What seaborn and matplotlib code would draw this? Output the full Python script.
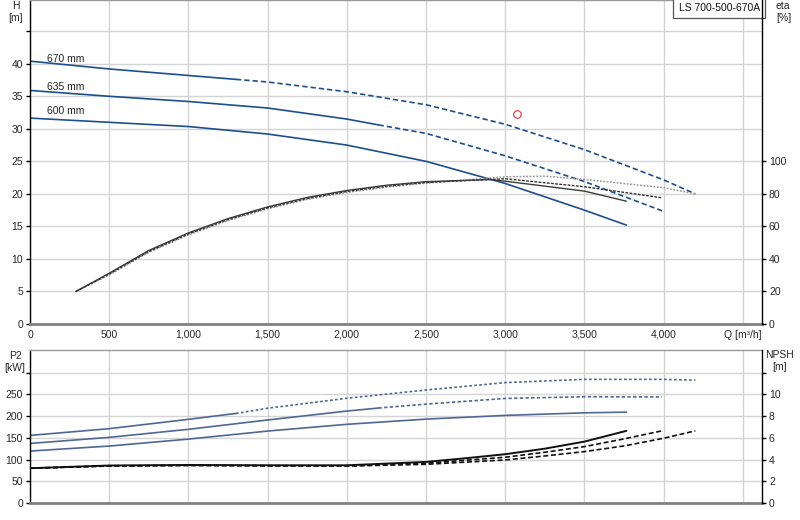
import matplotlib
matplotlib.use("Agg")
import matplotlib.pyplot as plt
import numpy as np
import pandas as pd
import seaborn as sns

# ---------------- data ----------------
diameters = ["670 mm", "635 mm", "600 mm"]

# head curves H [m]
q_h_670 = [0, 500, 1000, 1300, 1500, 2000, 2500, 3000, 3500, 4000, 4200]
h_670 = [40.4, 39.2, 38.2, 37.6, 37.2, 35.7, 33.7, 30.7, 26.8, 22.15, 20.0]
q_h_635 = [0, 500, 1000, 1500, 2000, 2200, 2500, 3000, 3500, 3990]
h_635 = [35.9, 35.0, 34.2, 33.2, 31.5, 30.6, 29.3, 25.85, 21.9, 17.4]
q_h_600 = [0, 500, 1000, 1500, 2000, 2500, 3000, 3500, 3765]
h_600 = [31.65, 31.0, 30.35, 29.2, 27.5, 25.0, 21.6, 17.5, 15.2]
solid_until = [1300, 2200, 3765]   # end of solid part for 670 / 635 / 600

# efficiency curves eta [%]
q_e_670 = [290, 500, 750, 1000, 1250, 1500, 1750, 2000, 2250, 2500, 3000, 3250, 3500, 4000, 4200]
eta_670 = [20, 30.2, 44.0, 54.8, 63.6, 70.8, 76.6, 80.9, 84.1, 86.6, 90.5, 90.9, 88.9, 83.8, 80.0]
q_e_635 = [290, 500, 750, 1000, 1250, 1500, 1750, 2000, 2250, 2500, 3000, 3500, 3990]
eta_635 = [20, 30.7, 44.6, 55.4, 64.2, 71.4, 77.2, 81.5, 84.7, 87.0, 89.3, 84.4, 77.6]
q_e_600 = [290, 500, 750, 1000, 1250, 1500, 1750, 2000, 2250, 2500, 2900, 3000, 3500, 3765]
eta_600 = [20, 31.2, 45.2, 56.0, 64.8, 72.0, 77.8, 82.1, 85.3, 87.5, 88.8, 87.8, 81.7, 75.5]

# power curves P2 [kW]
q_p_670 = [0, 500, 1000, 1300, 1500, 2000, 2500, 3000, 3500, 4000, 4200]
p2_670 = [155.5, 171, 192.5, 206, 218, 241, 260, 277, 284.5, 284.5, 282.5]
q_p_635 = [0, 500, 1000, 1500, 2000, 2200, 2500, 3000, 3500, 3990]
p2_635 = [137, 151, 169.5, 191, 211.5, 218.5, 227.5, 240.5, 244.5, 244]
q_p_600 = [0, 500, 1000, 1500, 2000, 2500, 3000, 3500, 3765]
p2_600 = [119.5, 131, 147, 165.5, 181, 193, 201.5, 207.5, 209]

# NPSH curves [m]
q_n_670 = [0, 500, 1000, 1500, 2000, 2500, 3000, 3250, 3500, 3750, 4000, 4200]
npsh_670 = [3.2, 3.4, 3.45, 3.42, 3.4, 3.56, 3.96, 4.33, 4.73, 5.25, 5.96, 6.64]
q_n_635 = [0, 500, 1000, 1500, 2000, 2500, 3000, 3250, 3500, 3750, 3990]
npsh_635 = [3.2, 3.42, 3.47, 3.44, 3.42, 3.66, 4.21, 4.67, 5.19, 5.9, 6.64]
q_n_600 = [0, 500, 1000, 1500, 2000, 2500, 2750, 3000, 3250, 3500, 3765]
npsh_600 = [3.2, 3.45, 3.5, 3.47, 3.47, 3.78, 4.12, 4.49, 5.0, 5.65, 6.64]

# duty point
duty_q = [3077]
duty_h = [32.2]

x_ticks = [0, 500, 1000, 1500, 2000, 2500, 3000, 3500, 4000, 4500]
x_labels = ["0", "500", "1,000", "1,500", "2,000", "2,500", "3,000", "3,500", "4,000", "Q [m³/h]"]
h_ticks = [0, 5, 10, 15, 20, 25, 30, 35, 40, 45]
eta_ticks = [0, 20, 40, 60, 80, 100]
p2_ticks = [0, 50, 100, 150, 200, 250, 300]
npsh_ticks = [0, 2, 4, 6, 8, 10, 12]

# ---------------- style ----------------
sns.set_theme(style="white")
plt.rcParams["font.family"] = ["Liberation Sans", "DejaVu Sans"]
FS = 7.5
plt.rcParams["font.size"] = FS

BLUE = "#1d4f8f"
PBLUE = "#4f6794"
GRID = "#d4d4d4"

fig = plt.figure(figsize=(8, 5.2), dpi=100)
ax = fig.add_axes([30 / 800, 1 - 324 / 520, 732 / 800, 324 / 520])
axb = fig.add_axes([30 / 800, 1 - 503 / 520, 732 / 800, 153 / 520])

XMAX = 4621
HTOP = 49.8
PTOP = 352


def split(q, v, lim):
    a = pd.DataFrame({"Q": [x for x in q if x <= lim], "V": [y for x, y in zip(q, v) if x <= lim]})
    b = pd.DataFrame({"Q": [x for x in q if x >= lim], "V": [y for x, y in zip(q, v) if x >= lim]})
    return a, b


def line(a, df, **kw):
    if len(df) > 1:
        sns.lineplot(data=df, x="Q", y="V", ax=a, estimator=None, sort=False, legend=False, **kw)


def style_axes(a, ymax, yt, ylabels_max):
    a.set_xlim(0, XMAX)
    a.set_ylim(0, ymax)
    a.set_xticks(x_ticks)
    a.set_yticks(yt)
    a.grid(True, color=GRID, lw=1.0)
    a.set_axisbelow(True)
    a.spines["top"].set_color("#999999")
    a.spines["top"].set_linewidth(1.0)
    a.spines["bottom"].set_color("#808080")
    a.spines["bottom"].set_linewidth(2.0)
    a.spines["left"].set_color("black")
    a.spines["left"].set_linewidth(1.0)
    a.spines["right"].set_visible(False)
    a.tick_params(axis="y", direction="out", length=3, width=1, color="black", pad=2, labelsize=FS)
    a.tick_params(axis="x", length=0, pad=4, labelsize=FS)
    a.set_yticklabels([str(t) if t <= ylabels_max else "" for t in yt])


def style_twin(a, ymax, yt, ylabels_max):
    a.set_ylim(0, ymax)
    a.set_yticks(yt)
    a.set_yticklabels([str(t) if t <= ylabels_max else "" for t in yt])
    a.grid(False)
    for s in ["top", "left", "bottom"]:
        a.spines[s].set_visible(False)
    a.spines["right"].set_color("black")
    a.spines["right"].set_linewidth(1.0)
    a.tick_params(axis="y", direction="out", length=3, width=1, color="black", pad=2, labelsize=FS)


# ---------------- top: H / eta ----------------
style_axes(ax, HTOP, h_ticks, 40)
ax.set_xticklabels(x_labels)

for q, h, lim in zip([q_h_670, q_h_635, q_h_600], [h_670, h_635, h_600], solid_until):
    s, d = split(q, h, lim)
    line(ax, s, color=BLUE, lw=1.2)
    line(ax, d, color=BLUE, lw=1.2, linestyle=(0, (3.2, 1.8)))

label_h = [40.8, 36.5, 32.7]
for txt, yv in zip(diameters, label_h):
    ax.text(107, yv, txt, ha="left", va="center", fontsize=FS, color="#222222")

sns.scatterplot(x=duty_q, y=duty_h, ax=ax, marker="o", s=30, facecolor="none",
                edgecolor="#ee3333", linewidth=0.8, legend=False)

axe = ax.twinx()
line(axe, pd.DataFrame({"Q": q_e_670, "V": eta_670}), color="#9a9a9a", lw=1.1, linestyle=(0, (1.2, 1.0)))
line(axe, pd.DataFrame({"Q": q_e_635, "V": eta_635}), color="#333333", lw=1.0, linestyle=(0, (2.0, 1.0)))
line(axe, pd.DataFrame({"Q": q_e_600, "V": eta_600}), color="#3a3a3a", lw=1.0)
style_twin(axe, HTOP * 4, eta_ticks, 100)
axe.set_xlim(0, XMAX)

ax.text(0.997, 0.992, "LS 700-500-670A", transform=ax.transAxes, ha="right", va="top",
        fontsize=FS, color="#111111",
        bbox=dict(boxstyle="square,pad=0.5", facecolor="white", edgecolor="#555555", lw=0.9),
        zorder=10)

fig.text(16 / 800, 1 - 12 / 520, "H\n[m]", ha="center", va="center", fontsize=FS, linespacing=1.3)
fig.text(776 / 800, 1 - 12 / 520, "eta\n[%]", ha="left", va="center", fontsize=FS, linespacing=1.3)

# ---------------- bottom: P2 / NPSH ----------------
style_axes(axb, PTOP, p2_ticks, 250)

p2_style = [(0, (1.6, 1.4)), (0, (2.0, 1.4)), "-"]
for q, p, lim, ls in zip([q_p_670, q_p_635, q_p_600], [p2_670, p2_635, p2_600], solid_until, p2_style):
    s, d = split(q, p, lim)
    line(axb, s, color=PBLUE, lw=1.2)
    line(axb, d, color=PBLUE, lw=1.2, linestyle=ls)

axn = axb.twinx()
line(axn, pd.DataFrame({"Q": q_n_670, "V": npsh_670}), color="#111111", lw=1.2, linestyle=(0, (3.0, 1.6)))
line(axn, pd.DataFrame({"Q": q_n_635, "V": npsh_635}), color="#111111", lw=1.2, linestyle=(0, (3.0, 1.6)))
line(axn, pd.DataFrame({"Q": q_n_600, "V": npsh_600}), color="#111111", lw=1.4)
style_twin(axn, PTOP / 25, npsh_ticks, 10)
axn.set_xlim(0, XMAX)
axb.set_xticklabels([])

for a in [ax, axe, axb, axn]:
    a.set_xlabel("")
    a.set_ylabel("")

fig.text(15 / 800, 1 - 362 / 520, "P2\n[kW]", ha="center", va="center", fontsize=FS, linespacing=1.3)
fig.text(780 / 800, 1 - 361 / 520, "NPSH\n[m]", ha="center", va="center", fontsize=FS, linespacing=1.3)

fig.savefig("out.png", dpi=100)
